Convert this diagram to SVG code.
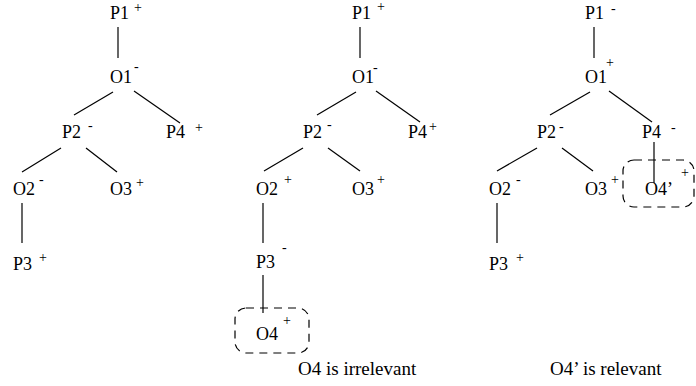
<svg xmlns="http://www.w3.org/2000/svg" width="696" height="386" viewBox="0 0 696 386">
<style>
.n{font-size:18px}
.s{font-size:14px}
.l{font-size:19px}
line{stroke:#000;stroke-width:1.2}
.box{fill:none;stroke:#000;stroke-width:1.2;stroke-dasharray:8 6}
</style>
<rect width="696" height="386" fill="#fff"/>
<g id="connectors">
<line x1="118" y1="27" x2="118" y2="58"/>
<line x1="113" y1="92" x2="74" y2="115"/>
<line x1="134" y1="91" x2="180" y2="123"/>
<line x1="61" y1="148" x2="22" y2="172"/>
<line x1="86" y1="148" x2="117" y2="172"/>
<line x1="22" y1="203" x2="22" y2="243"/>
<line x1="360" y1="27" x2="360" y2="58"/>
<line x1="356" y1="92" x2="317" y2="115"/>
<line x1="376" y1="91" x2="420" y2="122"/>
<line x1="303" y1="148" x2="264" y2="171"/>
<line x1="328" y1="148" x2="360" y2="171"/>
<line x1="263" y1="203" x2="263" y2="243"/>
<line x1="263" y1="275" x2="263" y2="313"/>
<line x1="594" y1="27" x2="594" y2="58"/>
<line x1="590" y1="92" x2="550" y2="115"/>
<line x1="609" y1="91" x2="652" y2="122"/>
<line x1="537" y1="148" x2="497" y2="171"/>
<line x1="562" y1="148" x2="593" y2="171"/>
<line x1="497" y1="203" x2="497" y2="243"/>
<line x1="654" y1="142" x2="654" y2="183"/>
</g>
<g font-family="Liberation Serif, Times New Roman, serif" fill="#000">
<g id="t1-P1"><text class="n" x="110" y="19">P1</text><text class="s" x="134" y="12">+</text></g>
<g id="t1-O1"><text class="n" x="110" y="83">O1</text><text class="s" x="134" y="71">-</text></g>
<g id="t1-P2"><text class="n" x="62" y="138">P2</text><text class="s" x="88" y="130">-</text></g>
<g id="t1-P4"><text class="n" x="166" y="138">P4</text><text class="s" x="195" y="132">+</text></g>
<g id="t1-O2"><text class="n" x="13" y="195">O2</text><text class="s" x="39" y="184">-</text></g>
<g id="t1-O3"><text class="n" x="110" y="195">O3</text><text class="s" x="136" y="187">+</text></g>
<g id="t1-P3"><text class="n" x="13" y="270">P3</text><text class="s" x="39" y="262">+</text></g>
<g id="t2-P1"><text class="n" x="352" y="19">P1</text><text class="s" x="377" y="11">+</text></g>
<g id="t2-O1"><text class="n" x="352" y="83">O1</text><text class="s" x="373" y="72">-</text></g>
<g id="t2-P2"><text class="n" x="303" y="138">P2</text><text class="s" x="327" y="129">-</text></g>
<g id="t2-P4"><text class="n" x="408" y="138">P4</text><text class="s" x="429" y="131">+</text></g>
<g id="t2-O2"><text class="n" x="256" y="195">O2</text><text class="s" x="284" y="184">+</text></g>
<g id="t2-O3"><text class="n" x="352" y="195">O3</text><text class="s" x="377" y="184">+</text></g>
<g id="t2-P3"><text class="n" x="256" y="268">P3</text><text class="s" x="282" y="252">-</text></g>
<g id="t2-O4"><rect class="box" x="235" y="308" width="74" height="45" rx="11"/><text class="n" x="256" y="340">O4</text><text class="s" x="283" y="325">+</text></g>
<g id="t3-P1"><text class="n" x="585" y="19">P1</text><text class="s" x="611" y="13">-</text></g>
<g id="t3-O1"><text class="n" x="585" y="83">O1</text><text class="s" x="606" y="67">+</text></g>
<g id="t3-P2"><text class="n" x="537" y="138">P2</text><text class="s" x="559" y="131">-</text></g>
<g id="t3-P4"><text class="n" x="642" y="138">P4</text><text class="s" x="671" y="132">-</text></g>
<g id="t3-O2"><text class="n" x="489" y="195">O2</text><text class="s" x="516" y="184">-</text></g>
<g id="t3-O3"><text class="n" x="585" y="195">O3</text><text class="s" x="611" y="184">+</text></g>
<g id="t3-P3"><text class="n" x="489" y="270">P3</text><text class="s" x="516" y="262">+</text></g>
<g id="t3-O4p"><rect class="box" x="623" y="160" width="71" height="47" rx="11"/><text class="n" x="645" y="195">O4’</text><text class="s" x="681" y="177">+</text></g>
<g id="label2"><text class="l" x="298" y="375">O4 is irrelevant</text></g>
<g id="label3"><text class="l" x="550" y="375">O4’ is relevant</text></g>
</g>
</svg>
